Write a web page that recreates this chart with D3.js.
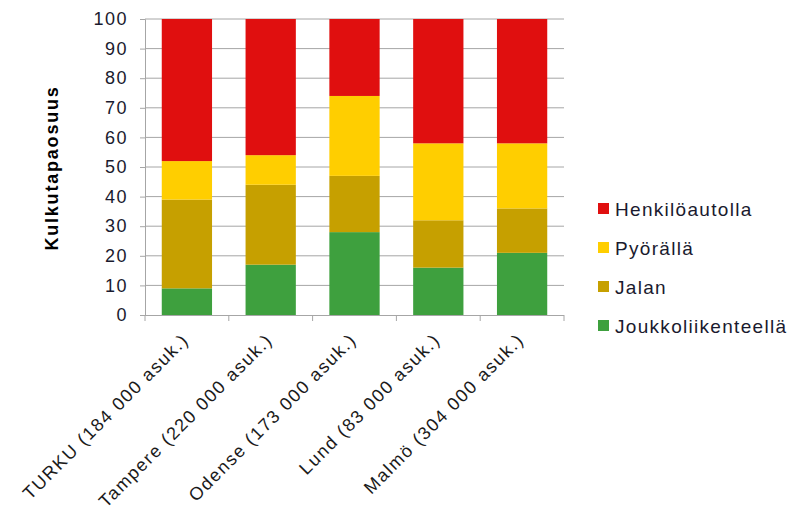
<!DOCTYPE html>
<html>
<head>
<meta charset="utf-8">
<script src="https://cdn.jsdelivr.net/npm/d3@7/dist/d3.min.js"></script>
<style>
  body { margin: 0; background: #fff; }
  svg { display: block; font-family: "Liberation Sans", Arial, sans-serif; }
</style>
</head>
<body>
<svg id="chart" width="795" height="520"></svg>
<script>
// Cities and modal split shares (%)
const cities = ["TURKU (184 000 asuk.)", "Tampere (220 000 asuk.)", "Odense (173 000 asuk.)", "Lund (83 000 asuk.)", "Malmö (304 000 asuk.)"];
const seriesNames = ["Joukkoliikenteellä", "Jalan", "Pyörällä", "Henkilöautolla"];
const joukkoliikenne = [9, 17, 28, 16, 21];
const jalan = [30, 27, 19, 16, 15];
const pyoralla = [13, 10, 27, 26, 22];
const henkiloauto = [48, 46, 26, 42, 42];
const yTicks = [0, 10, 20, 30, 40, 50, 60, 70, 80, 90, 100];
const colors = ["#3EA03E", "#C6A000", "#FFCE00", "#E00F0F"];
const yTitle = "Kulkutapaosuus";

const rows = cities.map((c, i) => ({
  city: c,
  "Joukkoliikenteellä": joukkoliikenne[i],
  "Jalan": jalan[i],
  "Pyörällä": pyoralla[i],
  "Henkilöautolla": henkiloauto[i]
}));

const svg = d3.select("#chart");
const m = { left: 145, right: 564, top: 19, bottom: 315 };

const x = d3.scaleBand().domain(cities).range([m.left, m.right]).paddingInner(0.4).paddingOuter(0.2);
const y = d3.scaleLinear().domain([0, 100]).range([m.bottom, m.top]);
const color = d3.scaleOrdinal().domain(seriesNames).range(colors);

// Horizontal gridlines
svg.append("g").selectAll("line").data(yTicks.filter(t => t > 0)).join("line")
  .attr("x1", m.left).attr("x2", m.right)
  .attr("y1", d => y(d)).attr("y2", d => y(d))
  .attr("stroke", "#A6A6A6").attr("stroke-width", 1);

// Stacked bars
const stacked = d3.stack().keys(seriesNames)(rows);
svg.append("g").selectAll("g").data(stacked).join("g")
  .attr("fill", d => color(d.key))
  .selectAll("rect").data(d => d).join("rect")
  .attr("x", d => x(d.data.city))
  .attr("width", x.bandwidth())
  .attr("y", d => y(d[1]))
  .attr("height", d => y(d[0]) - y(d[1]));

// Y axis
const yAxis = svg.append("g").attr("transform", `translate(${m.left},0)`)
  .call(d3.axisLeft(y).tickValues(yTicks).tickSize(5).tickPadding(12));
yAxis.select(".domain").attr("stroke", "#A6A6A6");
yAxis.selectAll(".tick line").attr("stroke", "#A6A6A6");
yAxis.selectAll(".tick text").attr("font-size", 18).attr("fill", "#1a1a2e")
  .attr("letter-spacing", 1.5)
  .attr("font-family", "Liberation Sans, Arial, sans-serif");

// X axis: category boundaries as ticks
const xLine = svg.append("g");
xLine.append("line").attr("x1", m.left).attr("x2", m.right)
  .attr("y1", m.bottom + 0.5).attr("y2", m.bottom + 0.5).attr("stroke", "#A6A6A6");
const bounds = d3.range(cities.length + 1).map(i => m.left + i * (m.right - m.left) / cities.length);
xLine.selectAll(".bt").data(bounds).join("line")
  .attr("x1", d => d).attr("x2", d => d)
  .attr("y1", m.bottom).attr("y2", m.bottom + 6).attr("stroke", "#A6A6A6");

// Rotated category labels
svg.append("g").selectAll("text").data(cities).join("text")
  .attr("transform", d => `translate(${x(d) + x.bandwidth() / 2 + 3},${m.bottom + 26}) rotate(-45)`)
  .attr("text-anchor", "end")
  .attr("font-size", 18)
  .attr("letter-spacing", 1.6)
  .attr("fill", "#1a1a1a")
  .text(d => d);

// Y axis title
svg.append("text")
  .attr("transform", `translate(58,${(m.top + m.bottom) / 2 + 1}) rotate(-90)`)
  .attr("text-anchor", "middle")
  .attr("font-size", 18).attr("font-weight", "bold").attr("fill", "#000")
  .attr("letter-spacing", 1.8)
  .text(yTitle);

// Legend (top to bottom: car, bike, walk, transit)
const legendOrder = seriesNames.slice().reverse();
const lg = svg.append("g").attr("transform", "translate(598,209)");
const li = lg.selectAll("g").data(legendOrder).join("g")
  .attr("transform", (d, i) => `translate(0,${i * 39})`);
li.append("rect").attr("x", 0).attr("y", -6).attr("width", 11).attr("height", 11)
  .attr("fill", d => color(d));
li.append("text").attr("x", 17).attr("y", 7)
  .attr("font-size", 19).attr("letter-spacing", 1.3)
  .attr("fill", "#1a1a2e").text(d => d);
</script>
</body>
</html>
